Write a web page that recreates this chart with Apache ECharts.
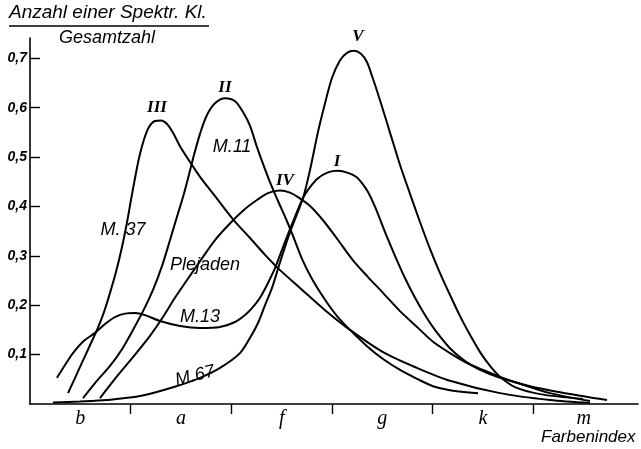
<!DOCTYPE html>
<html>
<head>
<meta charset="utf-8">
<script src="https://cdn.jsdelivr.net/npm/echarts@6/dist/echarts.min.js"></script>
<style>
  html, body { margin: 0; padding: 0; background: #fff; }
  #chart { width: 641px; height: 449px; }
</style>
</head>
<body>
<div id="chart"></div>
<script>
// Colour-index classes along the x axis (one band each)
const bandNames = ['b', 'a', 'f', 'g', 'k', 'm'];
const bandBounds = [1, 2, 3, 4, 5];
const bandCentres = [0.5, 1.5, 2.5, 3.5, 4.5, 5.5];
const yTicks = [0.1, 0.2, 0.3, 0.4, 0.5, 0.6, 0.7];

// Fraction of a spectral class relative to the total, per colour index
const curveIII_M37 = [
  [0.378, 0.022], [0.497, 0.075], [0.596, 0.119], [0.666, 0.150], [0.735, 0.186],
  [0.795, 0.225], [0.854, 0.267], [0.914, 0.318], [0.964, 0.368], [1.003, 0.413],
  [1.043, 0.457], [1.083, 0.498], [1.133, 0.536], [1.182, 0.561], [1.242, 0.573],
  [1.301, 0.574], [1.361, 0.567], [1.421, 0.549], [1.490, 0.522], [1.590, 0.490],
  [1.689, 0.460], [1.838, 0.421], [2.017, 0.374], [2.186, 0.336], [2.335, 0.302],
  [2.484, 0.271], [2.682, 0.235], [2.931, 0.190], [3.179, 0.150], [3.507, 0.105],
  [3.845, 0.073], [4.172, 0.047], [4.669, 0.022], [5.166, 0.008], [5.563, 0.002]
];
const curveII_M11 = [
  [0.527, 0.012], [0.656, 0.045], [0.795, 0.077], [0.914, 0.111], [1.023, 0.150],
  [1.123, 0.188], [1.222, 0.231], [1.311, 0.279], [1.391, 0.332], [1.460, 0.379],
  [1.520, 0.419], [1.570, 0.457], [1.629, 0.504], [1.689, 0.547], [1.758, 0.585],
  [1.838, 0.609], [1.937, 0.619], [2.037, 0.613], [2.116, 0.591], [2.186, 0.563],
  [2.255, 0.520], [2.315, 0.486], [2.384, 0.449], [2.464, 0.411], [2.553, 0.370],
  [2.633, 0.330], [2.702, 0.294], [2.802, 0.253], [2.931, 0.211], [3.050, 0.178],
  [3.179, 0.150], [3.348, 0.117], [3.507, 0.091], [3.676, 0.069], [3.845, 0.051],
  [4.004, 0.036], [4.172, 0.028], [4.451, 0.022]
];
const curveIV_Plejaden = [
  [0.695, 0.012], [0.844, 0.051], [1.023, 0.095], [1.192, 0.138], [1.321, 0.176],
  [1.440, 0.215], [1.560, 0.251], [1.689, 0.289], [1.838, 0.332], [2.017, 0.372],
  [2.136, 0.395], [2.255, 0.413], [2.364, 0.427], [2.484, 0.432], [2.583, 0.428],
  [2.662, 0.419], [2.782, 0.401], [2.911, 0.372], [3.060, 0.332], [3.209, 0.291],
  [3.358, 0.257], [3.507, 0.225], [3.676, 0.188], [3.845, 0.156], [4.004, 0.126],
  [4.172, 0.103], [4.341, 0.083], [4.500, 0.069], [4.669, 0.055], [4.838, 0.043],
  [5.166, 0.022], [5.563, 0.006]
];
const curveI_M13 = [
  [0.268, 0.053], [0.348, 0.079], [0.427, 0.103], [0.536, 0.128], [0.646, 0.144],
  [0.745, 0.162], [0.844, 0.176], [0.944, 0.183], [1.043, 0.184], [1.142, 0.180],
  [1.291, 0.168], [1.490, 0.158], [1.689, 0.154], [1.888, 0.156], [2.037, 0.166],
  [2.136, 0.180], [2.205, 0.194], [2.285, 0.215], [2.364, 0.245], [2.434, 0.275],
  [2.503, 0.312], [2.603, 0.364], [2.712, 0.417], [2.782, 0.439], [2.861, 0.457],
  [2.960, 0.469], [3.060, 0.472], [3.159, 0.468], [3.239, 0.460], [3.298, 0.447],
  [3.358, 0.429], [3.428, 0.399], [3.527, 0.348], [3.626, 0.300], [3.725, 0.255],
  [3.825, 0.215], [3.924, 0.180], [4.023, 0.150], [4.172, 0.113], [4.322, 0.087],
  [4.471, 0.069], [4.669, 0.053], [4.967, 0.036], [5.265, 0.024], [5.732, 0.008]
];
const curveV_M67 = [
  [0.228, 0.003], [0.497, 0.005], [0.765, 0.008], [1.093, 0.016], [1.421, 0.034],
  [1.689, 0.053], [1.888, 0.073], [2.086, 0.103], [2.186, 0.134], [2.265, 0.164],
  [2.335, 0.200], [2.404, 0.235], [2.484, 0.287], [2.583, 0.348], [2.712, 0.417],
  [2.782, 0.474], [2.861, 0.551], [2.931, 0.609], [3.000, 0.660], [3.080, 0.696],
  [3.149, 0.711], [3.219, 0.715], [3.288, 0.709], [3.348, 0.692], [3.398, 0.664],
  [3.477, 0.615], [3.577, 0.549], [3.676, 0.484], [3.776, 0.425], [3.875, 0.368],
  [3.974, 0.314], [4.073, 0.265], [4.172, 0.221], [4.272, 0.178], [4.371, 0.140],
  [4.471, 0.105], [4.570, 0.077], [4.669, 0.055], [4.818, 0.034], [5.067, 0.020],
  [5.494, 0.010]
];

// Curve annotations: text and anchor in data units
const annotationTexts = ['I', 'II', 'III', 'IV', 'V', 'M.11', 'M. 37', 'Plejaden', 'M.13', 'M.67'];
const annotationAnchors = [
  [3.050, 0.490], [1.937, 0.640], [1.262, 0.601], [2.533, 0.453], [3.258, 0.743],
  [2.007, 0.520], [0.924, 0.352], [1.739, 0.281], [1.689, 0.176], [1.639, 0.057]
];

const ink = '#000';
const handFont = '"Liberation Sans", "DejaVu Sans", sans-serif';
const romanFont = '"Liberation Serif", "DejaVu Serif", serif';

const curves = [curveIII_M37, curveII_M11, curveIV_Plejaden, curveI_M13, curveV_M67];

const chart = echarts.init(document.getElementById('chart'), null, { renderer: 'canvas' });

const frameGraphics = [
  {
    type: 'text', left: 9, top: 3,
    style: { text: 'Anzahl einer Spektr. Kl.', fill: ink, font: 'italic 19px ' + handFont }
  },
  {
    type: 'line', shape: { x1: 9, y1: 26, x2: 209, y2: 26 },
    style: { stroke: ink, lineWidth: 1.6 }
  },
  {
    type: 'text', left: 59, top: 29,
    style: { text: 'Gesamtzahl', fill: ink, font: 'italic 18px ' + handFont }
  },
  {
    type: 'text', left: 541, top: 429,
    style: { text: 'Farbenindex', fill: ink, font: 'italic 17px ' + handFont }
  }
];

chart.setOption({
  animation: false,
  backgroundColor: '#fff',
  grid: { left: 30, top: 38, width: 608, height: 366, containLabel: false, outerBoundsMode: 'none' },
  xAxis: {
    type: 'value',
    min: 0,
    max: 6.04,
    splitLine: { show: false },
    axisLine: { show: true, onZero: false, lineStyle: { color: ink, width: 1.6 } },
    axisTick: {
      show: true, inside: false, length: 10,
      customValues: bandBounds,
      lineStyle: { color: ink, width: 1.4 }
    },
    axisLabel: {
      show: true,
      customValues: bandCentres,
      margin: 5,
      color: ink,
      fontFamily: romanFont,
      fontStyle: 'italic',
      fontSize: 20,
      formatter: v => bandNames[Math.round(v - 0.5)]
    }
  },
  yAxis: {
    type: 'value',
    min: 0,
    max: 0.741,
    splitLine: { show: false },
    axisLine: { show: true, onZero: false, lineStyle: { color: ink, width: 1.6 } },
    axisTick: {
      show: true, inside: true, length: 10,
      customValues: yTicks,
      lineStyle: { color: ink, width: 1.4 }
    },
    axisLabel: {
      show: true,
      customValues: yTicks,
      margin: 3,
      color: ink,
      fontFamily: handFont,
      fontStyle: 'italic',
      fontWeight: 'bold',
      fontSize: 14,
      formatter: v => v.toFixed(1).replace('.', ',')
    }
  },
  graphic: frameGraphics,
  series: curves.map(d => ({
    type: 'line',
    data: d,
    smooth: 0.3,
    symbol: 'none',
    clip: false,
    lineStyle: { color: ink, width: 2 }
  }))
});

// Place the curve names at their data anchors through the grid's scales
const annotationGraphics = annotationTexts.map((t, i) => {
  const roman = /^[IV]+$/.test(t);
  const p = chart.convertToPixel({ gridIndex: 0 }, annotationAnchors[i]);
  return {
    type: 'text',
    x: p[0],
    y: p[1],
    rotation: t === 'M.67' ? 14 * Math.PI / 180 : 0,
    style: {
      text: t,
      fill: ink,
      align: 'center',
      verticalAlign: 'middle',
      font: (roman ? 'italic bold 17px ' + romanFont : 'italic 18px ' + handFont)
    }
  };
});

chart.setOption({ graphic: frameGraphics.concat(annotationGraphics) }, { replaceMerge: ['graphic'] });
</script>
</body>
</html>
